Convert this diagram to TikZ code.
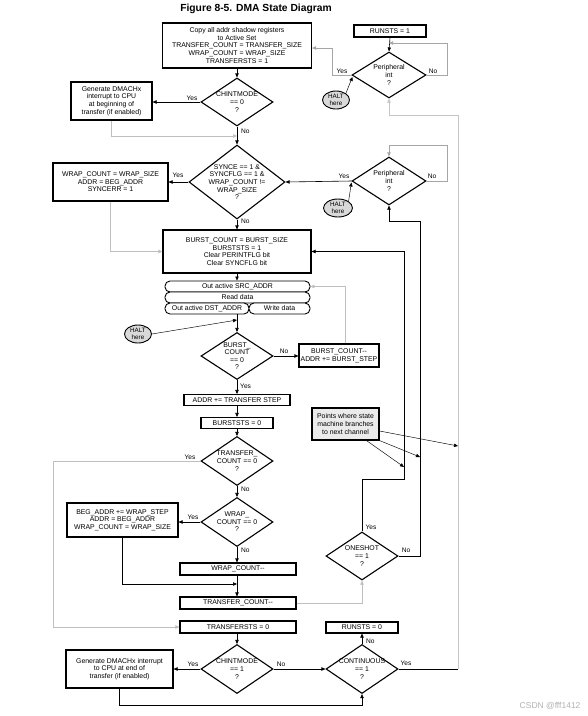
\documentclass[tikz,border=0pt]{standalone}
\usepackage{fontspec}
\setmainfont{Liberation Sans}
\usetikzlibrary{arrows.meta,shapes.geometric,calc}
\newcommand\dfs{\fontsize{6.9}{7.6}\selectfont}
\newcommand\lfs{\fontsize{6.6}{7}\selectfont}
\newcommand\hfs{\fontsize{6.3}{6.6}\selectfont}
\begin{document}
\begin{tikzpicture}[x=1pt,y=-1pt,
  >={Triangle[length=4pt,width=3.4pt]},
  box/.style={draw,line width=1.1pt,fill=white,align=center,inner sep=0pt,font=\dfs},
  pill/.style={draw,line width=0.9pt,rounded corners=5pt,fill=white,align=center,inner sep=0pt,font=\dfs,minimum height=11pt},
  dia/.style={draw,diamond,line width=1.1pt,inner sep=0pt,fill=white},
  dtxt/.style={align=center,font=\dfs,inner sep=0pt},
  halt/.style={draw,ellipse,fill=gray!30,line width=0.9pt,inner sep=0pt,align=center,font=\hfs,minimum width=27pt,minimum height=18pt},
  lbl/.style={font=\lfs,inner sep=0pt},
  conn/.style={line width=0.6pt,->},
  lite/.style={line width=0.6pt,draw=gray!50,->},
  plain/.style={line width=0.6pt},
  ptr/.style={line width=0.45pt,->}]
\useasboundingbox (0,0) rectangle (588,716);
\fill[white] (0,0) rectangle (588,716);

% title
\node[font=\bfseries\fontsize{10.3}{11}\selectfont] (title) at (256,9) {Figure 8-5. DMA State Diagram};

% boxes
\node[box,minimum width=149pt,minimum height=45pt] (top) at (237,45.5) {Copy all addr shadow registers\\to Active Set\\TRANSFER\_COUNT = TRANSFER\_SIZE\\WRAP\_COUNT = WRAP\_SIZE\\TRANSFERSTS = 1};
\node[box,minimum width=72pt,minimum height=12pt] (run1) at (390,31) {RUNSTS = 1};
\node[box,minimum width=81pt,minimum height=38pt] (gen1) at (111.5,101) {Generate DMACHx\\interrupt to CPU\\at beginning of\\transfer (if enabled)};
\node[box,minimum width=115pt,minimum height=38pt] (wrap) at (110.5,182) {WRAP\_COUNT = WRAP\_SIZE\\ADDR = BEG\_ADDR\\SYNCERR = 1};
\node[box,minimum width=148pt,minimum height=43pt] (burst) at (237,251.5) {BURST\_COUNT = BURST\_SIZE\\BURSTSTS = 1\\Clear PERINTFLG bit\\Clear SYNCFLG bit};
\node[pill,minimum width=145pt] (src) at (237.5,286.5) {Out active SRC\_ADDR};
\node[pill,minimum width=145pt] (read) at (237.5,297.5) {Read data};
\node[pill,minimum width=84pt] (dst) at (207,308.5) {Out active DST\_ADDR};
\node[pill,minimum width=61pt] (write) at (279.5,308.5) {Write data};
\node[box,minimum width=80pt,minimum height=23pt] (bcm) at (339,355.5) {BURST\_COUNT-{}-\\ADDR += BURST\_STEP};
\node[box,minimum width=106pt,minimum height=11pt] (addr) at (237,400) {ADDR += TRANSFER STEP};
\node[box,minimum width=72pt,minimum height=11pt] (bsts) at (237,423) {BURSTSTS = 0};
\node[box,minimum width=111pt,minimum height=34pt] (beg) at (122.5,520) {BEG\_ADDR += WRAP\_STEP\\ADDR = BEG\_ADDR\\WRAP\_COUNT = WRAP\_SIZE};
\node[box,minimum width=116pt,minimum height=12pt] (wcm) at (238,569) {WRAP\_COUNT-{}-};
\node[box,minimum width=116pt,minimum height=12pt] (tcm) at (238,603) {TRANSFER\_COUNT-{}-};
\node[box,minimum width=116pt,minimum height=12pt] (tsts) at (238,627) {TRANSFERSTS = 0};
\node[box,minimum width=107pt,minimum height=38pt] (gen2) at (119.5,669) {Generate DMACHx interrupt\\to CPU at end of\\transfer (if enabled)};
\node[box,minimum width=72pt,minimum height=11pt] (run0) at (362,627.5) {RUNSTS = 0};
\node[box,fill=gray!16,minimum width=67pt,minimum height=32pt] (pts) at (345.5,424) {Points where state\\machine branches\\to next channel};

% diamonds
\node[dia,minimum width=74pt,minimum height=46pt] (d1) at (389,75) {};
\node[dtxt] at (d1) {Peripheral\\int\\?};
\node[dia,minimum width=72pt,minimum height=48pt] (ch0) at (237,102) {};
\node[dtxt] at (ch0) {CHINTMODE\\== 0\\?};
\node[dia,minimum width=96pt,minimum height=74pt] (sync) at (237,182) {};
\node[dtxt] at (sync) {SYNCE == 1 \&\\SYNCFLG == 1 \&\\WRAP\_COUNT !=\\WRAP\_SIZE\\?};
\node[dia,minimum width=74pt,minimum height=48pt] (d2) at (389,181) {};
\node[dtxt] at (d2) {Peripheral\\int\\?};
\node[dia,minimum width=72pt,minimum height=47pt] (bc) at (237,356) {};
\node[dtxt] at (bc) {BURST\_\\COUNT\\== 0\\?};
\node[dia,minimum width=72pt,minimum height=49pt] (tc) at (237,461) {};
\node[dtxt] at (tc) {TRANSFER\_\\COUNT == 0\\?};
\node[dia,minimum width=72pt,minimum height=49pt] (wc) at (237,522) {};
\node[dtxt] at (wc) {WRAP\_\\COUNT == 0\\?};
\node[dia,minimum width=72pt,minimum height=48pt] (os) at (362,556) {};
\node[dtxt] at (os) {ONESHOT\\== 1\\?};
\node[dia,minimum width=72pt,minimum height=49pt] (ch1) at (237,669) {};
\node[dtxt] at (ch1) {CHINTMODE\\== 1\\?};
\node[dia,minimum width=72pt,minimum height=49pt] (cont) at (362,669) {};
\node[dtxt] at (cont) {CONTINUOUS\\== 1\\?};

% halt ellipses
\node[halt] (h1) at (336,100) {HALT\\here};
\node[halt,minimum width=29pt] (h2) at (338,208) {HALT\\here};
\node[halt] (h3) at (138,334) {HALT\\here};

% junction coordinates
\coordinate (j1) at (389,43);
\coordinate (j2) at (237,136);
\coordinate (j3) at (237,320);
\coordinate (j4) at (237,584);
\coordinate (pa) at (458,446);
\coordinate (pb) at (420,457);
\coordinate (pc) at (404,467);

% connectors
\draw[conn] (run1.south) -- (d1.north);
\draw[plain,gray!70] (d1.east) -- (447,75) -- (447,43);
\draw[conn,gray!70] (447,43) -- (j1);
\draw[conn,gray!70] (d1.west) -- (332,75) -- (332,48) -- (top.east |- 0,48);
\draw[ptr] (h1.north east) -- ($(d1.west)+(1,2)$);
\draw[conn] (top.south) -- (ch0.north);
\draw[conn] (ch0.west) -- (ch0.west -| gen1.east);
\draw[lite] (gen1.south) |- (j2);
\draw[conn] (ch0.south) -- (sync.north);
\draw[conn] (sync.west) -- (sync.west -| wrap.east);
\draw[lite] (wrap.south) |- (burst.west);
\draw[conn] (d2.west) -- (sync.east);
\draw[ptr] (h2.north east) -- ($(d2.west)+(0,1.5)$);
\draw[conn,gray!70] (d2.east) -- (447,181) -- (447,145) -- (389,145) -- (d2.north);
\draw[conn] (sync.south) -- (burst.north);
\draw[conn] (burst.south) -- (src.north -| burst.south);
\draw[conn] (bc.north |- dst.south) -- (bc.north);
\draw[ptr] (h3.east) -- (j3);
\draw[conn] (bc.east) -- (bc.east -| bcm.west);
\draw[lite] ($(bcm.north)+(6,0)$) |- (src.east);
\draw[conn] (bc.south) -- (addr.north);
\draw[conn] (addr.south) -- (bsts.north);
\draw[conn] (bsts.south) -- (tc.north);
\draw[conn] (tc.south) -- (wc.north);
\draw[conn] (wc.south) -- (wc.south |- wcm.north);
\draw[conn] (wc.west) -- (wc.west -| beg.east);
\draw[conn] (beg.south) |- (j4);
\draw[conn] (wc.south |- wcm.south) -- (wc.south |- tcm.north);
\draw[lite] (tcm.east) -| (os.south);
\draw[conn] (os.north) |- (404,479) |- (burst.east);
\draw[conn] (os.east) -| (420,221) -| (d2.south);
\draw[lite] (tc.west) -| (53,627) -- (tsts.west);
\draw[conn] (ch1.north |- tsts.south) -- (ch1.north);
\draw[conn] (ch1.west) -- (gen2.east);
\draw[conn] (gen2.south) |- (362,705) -- (cont.south);
\draw[conn] (ch1.east) -- (cont.west);
\draw[conn] (cont.north) -- (run0.south);
\draw[plain] (cont.east) -- (458,669);
\draw[plain,gray!45] (458,669) |- (389,115);
\draw[conn,gray!45] (389,115) -- (d1.south);
\draw[ptr] ($(pts.east)+(0,7)$) -- (pa);
\draw[ptr] (pts.south east) -- (pb);
\draw[ptr] ($(pts.south)+(21,0)$) -- (pc);

% labels
\node[lbl] at (342,71) {Yes};
\node[lbl] at (433,71) {No};
\node[lbl] at (192,98) {Yes};
\node[lbl,anchor=west] at (241,131) {No};
\node[lbl] at (178,175) {Yes};
\node[lbl] at (344,176) {Yes};
\node[lbl] at (432,176) {No};
\node[lbl,anchor=west] at (241,221) {No};
\node[lbl] at (284,351) {No};
\node[lbl,anchor=west] at (240,386) {Yes};
\node[lbl] at (190,457) {Yes};
\node[lbl,anchor=west] at (241,489) {No};
\node[lbl] at (193,517) {Yes};
\node[lbl,anchor=west] at (241,550) {No};
\node[lbl] at (371,527) {Yes};
\node[lbl] at (406,550) {No};
\node[lbl] at (193,664) {Yes};
\node[lbl] at (281,664) {No};
\node[lbl,anchor=west] at (366,641) {No};
\node[lbl] at (406,663) {Yes};

\node[font=\fontsize{8.5}{9}\selectfont,text=gray!60,anchor=east] (wm) at (584,706) {CSDN @fff1412};
\end{tikzpicture}
\end{document}
